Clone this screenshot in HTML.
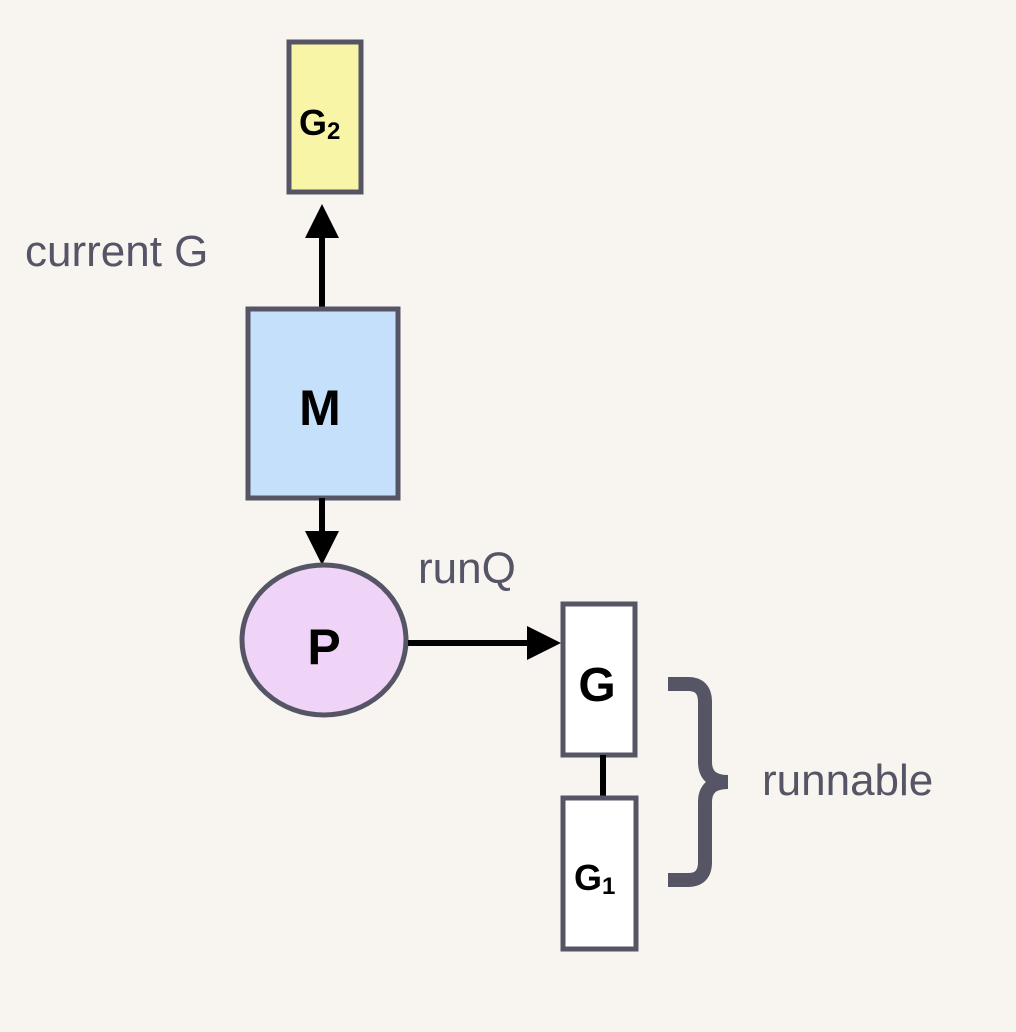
<!DOCTYPE html>
<html><head><style>
html,body{margin:0;padding:0;background:#f8f5f1;}
svg{display:block;}
text{font-family:"Liberation Sans",sans-serif;}
</style></head><body>
<svg width="1016" height="1032" viewBox="0 0 1016 1032">
<rect width="1016" height="1032" fill="#f8f5f1"/>
<!-- G2 -->
<rect x="289" y="42" width="72" height="150" fill="#f8f5a6" stroke="#555566" stroke-width="5"/>
<text x="299" y="135" font-size="36" font-weight="bold" fill="#000">G<tspan font-size="24" dy="4">2</tspan></text>
<!-- arrow M -> G2 -->
<line x1="322" y1="310" x2="322" y2="236" stroke="#000" stroke-width="6"/>
<polygon points="322,204 305,238 339,238" fill="#000"/>
<text x="25" y="266" font-size="44" fill="#555566">current G</text>
<!-- M -->
<rect x="248" y="309" width="150" height="189" fill="#c5e0fa" stroke="#555566" stroke-width="5"/>
<text x="320" y="425" font-size="50" font-weight="bold" fill="#000" text-anchor="middle">M</text>
<!-- arrow M -> P -->
<line x1="322" y1="498" x2="322" y2="533" stroke="#000" stroke-width="6"/>
<polygon points="322,565 305,531 339,531" fill="#000"/>
<!-- P -->
<ellipse cx="324" cy="640" rx="82" ry="75" fill="#f0d4f8" stroke="#555566" stroke-width="5"/>
<text x="324" y="664" font-size="50" font-weight="bold" fill="#000" text-anchor="middle">P</text>
<!-- arrow P -> G -->
<line x1="408" y1="643" x2="528" y2="643" stroke="#000" stroke-width="6"/>
<polygon points="561,643 527,626 527,660" fill="#000"/>
<text x="418" y="583" font-size="44" fill="#555566">runQ</text>
<!-- G -->
<rect x="563" y="604" width="72" height="151" fill="#ffffff" stroke="#555566" stroke-width="5"/>
<text x="597" y="701" font-size="48" font-weight="bold" fill="#000" text-anchor="middle">G</text>
<line x1="603" y1="755" x2="603" y2="798" stroke="#000" stroke-width="6"/>
<!-- G1 -->
<rect x="563" y="798" width="73" height="151" fill="#ffffff" stroke="#555566" stroke-width="5"/>
<text x="574" y="890" font-size="36" font-weight="bold" fill="#000">G<tspan font-size="24" dy="4">1</tspan></text>
<!-- brace -->
<path d="M668,684 H688 Q705,684 705,702 V762 Q705,782 728,782 M728,782 Q705,782 705,802 V862 Q705,880 688,880 H668" fill="none" stroke="#555566" stroke-width="14"/>
<text x="762" y="795" font-size="44" fill="#555566">runnable</text>
</svg>
</body></html>
